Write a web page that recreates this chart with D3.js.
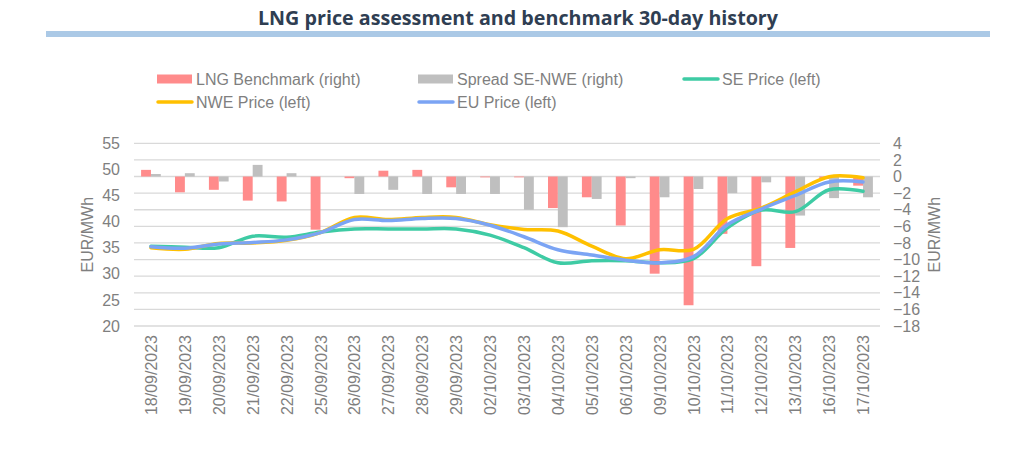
<!DOCTYPE html>
<html>
<head>
<meta charset="utf-8">
<script src="https://cdn.jsdelivr.net/npm/d3@7"></script>
<style>
  body { margin: 0; background: #fff; }
  text { font-family: "Liberation Sans", Arial, sans-serif; }
</style>
</head>
<body>
<script>
// categories and series
const dates = ["18/09/2023","19/09/2023","20/09/2023","21/09/2023","22/09/2023","25/09/2023","26/09/2023","27/09/2023","28/09/2023","29/09/2023","02/10/2023","03/10/2023","04/10/2023","05/10/2023","06/10/2023","09/10/2023","10/10/2023","11/10/2023","12/10/2023","13/10/2023","16/10/2023","17/10/2023"];
const lngBenchmark = [0.8,-1.9,-1.6,-2.9,-3.0,-6.4,-0.2,0.7,0.8,-1.3,-0.1,-0.1,-3.8,-2.5,-5.9,-11.7,-15.5,-6.9,-10.8,-8.6,-0.3,-1.1];
const spreadSeNwe = [0.3,0.4,-0.6,1.4,0.4,0,-2.1,-1.6,-2.1,-2.1,-2.1,-4.0,-6.1,-2.7,-0.2,-2.5,-1.5,-2.0,-0.7,-4.7,-2.6,-2.5];
const sePrice = [35.3,35.1,35.0,37.2,37.0,38.0,38.6,38.6,38.6,38.6,37.4,35.0,32.1,32.5,32.5,32.1,32.9,38.8,42.2,41.9,46.1,45.8];
const nwePrice = [35.0,34.7,35.8,35.9,36.4,37.9,40.8,40.4,40.8,40.8,39.4,38.5,38.2,35.3,32.9,34.6,34.7,40.6,42.6,45.7,48.6,48.4];
const euPrice = [35.2,34.9,35.7,36.0,36.5,37.9,40.4,40.2,40.6,40.6,39.3,37.1,34.6,33.6,32.6,32.1,33.3,39.4,42.4,45.0,47.6,47.6];
const leftTicks = [20,25,30,35,40,45,50,55];
const rightTicks = [-18,-16,-14,-12,-10,-8,-6,-4,-2,0,2,4];

const W = 1024, H = 449;
const plot = {left: 134, right: 880, top: 143.3, bottom: 326};
const grey = "#7f7f7f";

const svg = d3.select("body").append("svg").attr("width", W).attr("height", H);

// title + band
svg.append("text")
  .attr("x", 518).attr("y", 25)
  .attr("text-anchor", "middle")
  .attr("textLength", 520).attr("lengthAdjust", "spacingAndGlyphs")
  .style("font-family", "'Open Sans', sans-serif")
  .style("font-weight", "bold").style("font-size", "20px")
  .attr("fill", "#2f3e52")
  .text("LNG price assessment and benchmark 30-day history");
svg.append("rect").attr("x", 46).attr("y", 31).attr("width", 944).attr("height", 6).attr("fill", "#abc9e6");

// scales
const x = d3.scaleBand().domain(dates).range([plot.left, plot.right]);
const xSub = d3.scaleBand().domain(["lng","spread"]).range([0, x.bandwidth()]).paddingOuter(0.72);
const yL = d3.scaleLinear().domain([20, 55]).range([plot.bottom, plot.top]);
const yR = d3.scaleLinear().domain([-18, 4]).range([plot.bottom, plot.top]);

// gridlines on the right axis ticks
svg.append("g").selectAll("line").data(rightTicks).join("line")
  .attr("x1", plot.left).attr("x2", plot.right)
  .attr("y1", d => yR(d)).attr("y2", d => yR(d))
  .attr("stroke", "#d9d9d9").attr("stroke-width", 1.3);

// left axis
const gL = svg.append("g").attr("transform", `translate(${plot.left - 12},0)`)
  .call(d3.axisLeft(yL).tickValues(leftTicks).tickSize(0).tickPadding(2));
gL.select(".domain").remove();
gL.selectAll("text").attr("fill", grey).style("font-size", "16px").style("font-family", "'Liberation Sans', Arial, sans-serif");

// right axis
const gR = svg.append("g").attr("transform", `translate(${plot.right + 11},0)`)
  .call(d3.axisRight(yR).tickValues(rightTicks).tickSize(0).tickPadding(2));
gR.select(".domain").remove();
gR.selectAll("text").attr("fill", grey).style("font-size", "16px").style("font-family", "'Liberation Sans', Arial, sans-serif");

// axis titles
svg.append("text").attr("transform", `translate(93,${(plot.top + plot.bottom) / 2}) rotate(-90)`)
  .attr("text-anchor", "middle").attr("fill", grey).style("font-size", "16px").text("EUR/MWh");
svg.append("text").attr("transform", `translate(940,${(plot.top + plot.bottom) / 2}) rotate(-90)`)
  .attr("text-anchor", "middle").attr("fill", grey).style("font-size", "16px").text("EUR/MWh");

// x labels
svg.append("g").selectAll("text").data(dates).join("text")
  .attr("transform", d => `translate(${x(d) + x.bandwidth() / 2 + 6},335) rotate(-90)`)
  .attr("text-anchor", "end").attr("fill", grey).style("font-size", "16px")
  .text(d => d);

// bars
const barG = svg.append("g");
const bars = [
  {key: "lng", vals: lngBenchmark, color: "#ff8b8b"},
  {key: "spread", vals: spreadSeNwe, color: "#bfbfbf"}
];
bars.forEach(s => {
  barG.append("g").selectAll("rect").data(s.vals).join("rect")
    .attr("x", (d, i) => x(dates[i]) + xSub(s.key))
    .attr("width", xSub.bandwidth())
    .attr("y", d => Math.min(yR(d), yR(0)))
    .attr("height", d => Math.abs(yR(d) - yR(0)))
    .attr("fill", s.color);
});

// lines
const lines = [
  {vals: sePrice, color: "#3ecba4"},
  {vals: nwePrice, color: "#ffc000"},
  {vals: euPrice, color: "#7ba4f4"}
];
const lineGen = d3.line()
  .x((d, i) => x(dates[i]) + x.bandwidth() / 2)
  .y(d => yL(d))
  .curve(d3.curveCatmullRom.alpha(0.5));
lines.forEach(s => {
  svg.append("path").datum(s.vals)
    .attr("d", lineGen)
    .attr("fill", "none").attr("stroke", s.color)
    .attr("stroke-width", 3.5).attr("stroke-linecap", "round").attr("stroke-linejoin", "round");
});

// legend
const legend = [
  {label: "LNG Benchmark (right)", color: "#ff8b8b", type: "bar", x: 157, y: 79},
  {label: "Spread SE-NWE (right)", color: "#bfbfbf", type: "bar", x: 418, y: 79},
  {label: "SE Price (left)", color: "#3ecba4", type: "line", x: 683, y: 79},
  {label: "NWE Price (left)", color: "#ffc000", type: "line", x: 157, y: 102},
  {label: "EU Price (left)", color: "#7ba4f4", type: "line", x: 418, y: 102}
];
const lg = svg.append("g").selectAll("g").data(legend).join("g")
  .attr("transform", d => `translate(${d.x},${d.y})`);
lg.filter(d => d.type === "bar").append("rect")
  .attr("x", 0).attr("y", -4.5).attr("width", 35).attr("height", 9).attr("fill", d => d.color);
lg.filter(d => d.type === "line").append("line")
  .attr("x1", 1).attr("x2", 35).attr("y1", 0).attr("y2", 0)
  .attr("stroke", d => d.color).attr("stroke-width", 3.5).attr("stroke-linecap", "round");
lg.append("text").attr("x", 39).attr("y", 6).attr("fill", grey).style("font-size", "16px")
  .text(d => d.label);
</script>
</body>
</html>
